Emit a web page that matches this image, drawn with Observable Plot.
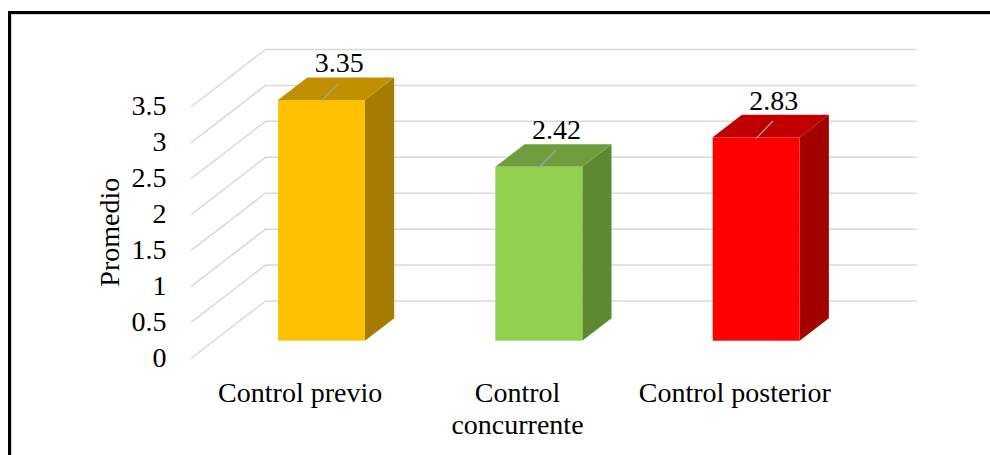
<!DOCTYPE html>
<html>
<head>
<meta charset="utf-8">
<script src="https://cdn.jsdelivr.net/npm/d3@7"></script>
<script src="https://cdn.jsdelivr.net/npm/@observablehq/plot@0.6"></script>
<style>
  html, body { margin: 0; padding: 0; background: #fff; }
  #wrap { position: relative; width: 990px; height: 455px; overflow: hidden; }
  #wrap svg { position: absolute; left: 0; top: 0; }
  #frame {
    position: absolute; left: 8px; top: 11px; right: -20px; bottom: -20px;
    border-left: 3px solid #000; border-top: 3px solid #000;
    box-shadow: inset 1px 1px 0 #cfcfcf;
    pointer-events: none;
  }
</style>
</head>
<body>
<div id="wrap"><div id="frame"></div></div>
<script>
// Average score for each stage of control
const categories = ["Control previo", "Control concurrente", "Control posterior"];
const categoryLabels = ["Control previo", "Control\nconcurrente", "Control posterior"];
const values = [3.35, 2.42, 2.83];
const yTicks = [0, 0.5, 1, 1.5, 2, 2.5, 3, 3.5];
const yLabel = "Promedio";

// Face colours of each box: front, top, side
const frontColors = ["#FFC000", "#92D050", "#FF0000"];
const topColors = ["#C09000", "#6F9D3D", "#C00000"];
const sideColors = ["#A67C00", "#5E8933", "#A30000"];

// Oblique projection of the depth axis (pixels from front plane to back wall)
const depthDx = 74, depthDy = 57;
const barNear = 0.295, barFar = 0.69; // depth of the box front and back faces
const halfBar = 0.2;                  // half box width, in category units

const rows = categories.map((c, i) => ({
  i, category: c, label: categoryLabels[i], value: values[i],
  front: frontColors[i], top: topColors[i], side: sideColors[i]
}));

// Straight line shape for vector marks
const lineShape = {
  draw(context, l) { context.moveTo(0, 0); context.lineTo(0, -l); }
};

// Side and top faces of each box, drawn through the plot's scales
function boxFaces(index, scales) {
  const g = d3.create("svg:g");
  const nx = depthDx * barNear, ny = -depthDy * barNear;
  const fx = depthDx * barFar, fy = -depthDy * barFar;
  for (const r of rows) {
    const xl = scales.x(r.i - halfBar), xr = scales.x(r.i + halfBar);
    const y0 = scales.y(0), y1 = scales.y(r.value);
    const side = [[xr + nx, y0 + ny], [xr + nx, y1 + ny], [xr + fx, y1 + fy], [xr + fx, y0 + fy]];
    const top = [[xl + nx, y1 + ny], [xr + nx, y1 + ny], [xr + fx, y1 + fy], [xl + fx, y1 + fy]];
    g.append("path").attr("d", "M" + side.join("L") + "Z").attr("fill", r.side);
    g.append("path").attr("d", "M" + top.join("L") + "Z").attr("fill", r.top);
  }
  return g.node();
}

const depthLength = Math.hypot(depthDx, depthDy);
const depthAngle = Math.atan2(depthDx, depthDy) * 180 / Math.PI;

const chart = Plot.plot({
  width: 990,
  height: 455,
  marginLeft: 191,
  marginRight: 147,
  marginTop: 106,
  marginBottom: 97.5,
  style: {
    fontFamily: "'Liberation Serif', 'Times New Roman', serif",
    fontSize: "28px",
    color: "#000",
    background: "transparent"
  },
  x: { type: "linear", domain: [-0.5, categories.length - 0.5], axis: null },
  y: {
    domain: [0, 3.5],
    ticks: yTicks,
    tickFormat: d => String(d),
    tickSize: 0,
    tickPadding: 25,
    label: null
  },
  marks: [
    // back wall gridlines
    Plot.ruleY(yTicks, { dx: depthDx, dy: -depthDy, stroke: "#d9d9d9", strokeWidth: 1.5 }),
    // side wall lines running from the axis back to the wall
    Plot.vector(yTicks, {
      x: () => -0.5, y: d => d,
      length: depthLength, rotate: depthAngle, anchor: "start",
      shape: lineShape, stroke: "#d9d9d9", strokeWidth: 1.5
    }),
    boxFaces,
    Plot.rectY(rows, {
      x1: d => d.i - halfBar, x2: d => d.i + halfBar, y1: 0, y2: "value",
      dx: depthDx * barNear, dy: -depthDy * barNear,
      fill: d => d.front
    }),
    // leader lines to the value labels
    Plot.vector(rows, {
      x: "i", y: "value",
      dx: depthDx * barNear, dy: -depthDy * barNear,
      length: 23, rotate: 44, anchor: "start",
      shape: lineShape, stroke: "#a6a6a6", strokeWidth: 1.2
    }),
    Plot.text(rows, {
      x: "i", y: "value", text: d => String(d.value),
      dx: 39, dy: -54, textAnchor: "middle", lineAnchor: "middle", fill: "#000"
    }),
    // category labels
    Plot.text(rows, {
      x: "i", text: "label", frameAnchor: "bottom",
      dy: 20.5, lineAnchor: "top", lineHeight: 1.16, fill: "#000"
    }),
    // axis title
    Plot.text([yLabel], {
      frameAnchor: "left", text: d => d, rotate: -90, dx: -81,
      textAnchor: "middle", lineAnchor: "middle", fill: "#000"
    })
  ]
});

document.getElementById("wrap").prepend(chart);
</script>
</body>
</html>
